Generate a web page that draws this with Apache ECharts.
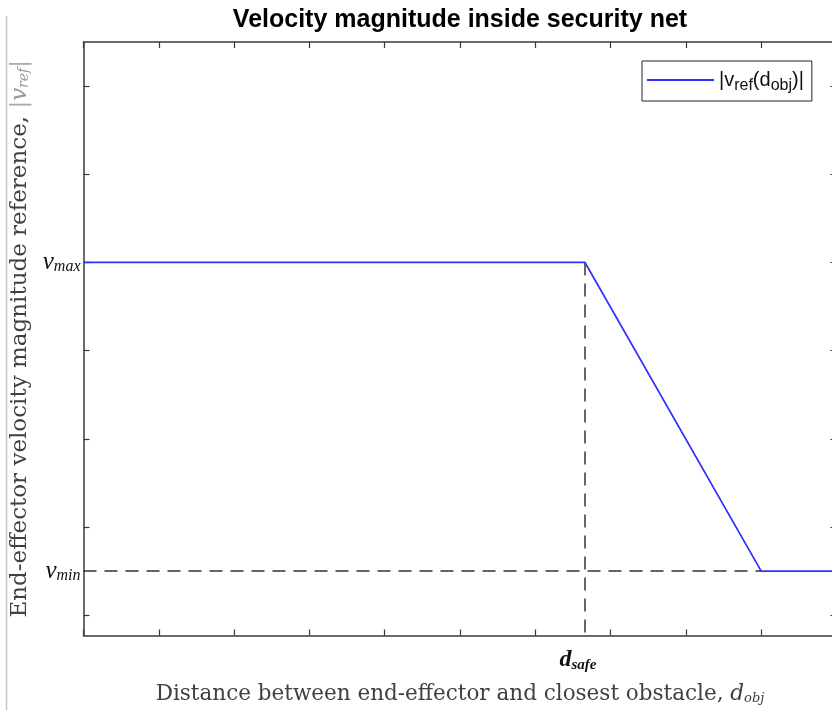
<!DOCTYPE html>
<html>
<head>
<meta charset="utf-8">
<script src="https://cdn.jsdelivr.net/npm/echarts@6/dist/echarts.min.js"></script>
<style>
  html, body { margin: 0; padding: 0; background: #fff; }
  #chart { width: 832px; height: 710px; }
</style>
</head>
<body>
<div id="chart"></div>
<script>
// Reference speed profile inside the security net
const distance = [0, 6.66, 9, 10];        // d_obj
const speed    = [0.4, 0.4, 0.05, 0.05];  // |v_ref(d_obj)|

const dSafe = 6.66;
const dEnd  = 9;
const vMax  = 0.4;
const vMin  = 0.05;

const xRange = [0, 10];
const yRange = [-0.023, 0.65];
const xTicks = [0, 1, 2, 3, 4, 5, 6, 7, 8, 9, 10];
const yTicks = [0, 0.1, 0.2, 0.3, 0.4, 0.5, 0.6];

const titleText = 'Velocity magnitude inside security net';

const axisColor = '#3a3a3a';
const labelColor = '#404040';
const serif = '"DejaVu Serif", "Liberation Serif", serif';
const mathSerif = '"Liberation Serif", "DejaVu Serif", serif';
const sans = '"Liberation Sans", Arial, sans-serif';

// plot box in pixels
const plot = { left: 83.5, top: 42, width: 753, height: 593.5 };
const plotCenterX = plot.left + plot.width / 2;

// centre the title over the plot box rather than the canvas
const titleFont = 'bold 25px "Liberation Sans", Arial, sans-serif';
const measureCtx = document.createElement('canvas').getContext('2d');
measureCtx.font = titleFont;
const titleWidth = measureCtx.measureText(titleText).width;

const chart = echarts.init(document.getElementById('chart'), null, { renderer: 'canvas' });

function boxAxis(extra) {
  return Object.assign({
    type: 'value',
    axisLine: { show: true, onZero: false, lineStyle: { color: axisColor, width: 1.5 } },
    axisTick: { show: true, inside: true, length: 6, lineStyle: { color: axisColor, width: 1.2 } },
    axisLabel: { show: false },
    splitLine: { show: false }
  }, extra);
}

const option = {
  backgroundColor: '#fff',
  animation: false,
  title: {
    text: titleText,
    left: plotCenterX - titleWidth / 2,
    top: 8,
    padding: 0,
    textStyle: { fontFamily: sans, fontWeight: 'bold', fontSize: 25, color: '#000' }
  },
  legend: {
    data: ['vref'],
    left: 642,
    top: 61,
    orient: 'vertical',
    padding: [9, 8, 7, 5],
    icon: 'rect',
    itemWidth: 67,
    itemHeight: 2,
    itemGap: 0,
    borderColor: '#262626',
    borderWidth: 1,
    borderRadius: 0,
    backgroundColor: '#fff',
    formatter: () => '|v{sub|ref}(d{sub|obj})|',
    textStyle: {
      fontFamily: sans, fontSize: 20, color: '#111',
      rich: { sub: { fontFamily: sans, fontSize: 16, color: '#111', padding: [12, 0, 0, 0] } }
    }
  },
  grid: Object.assign({ outerBoundsMode: 'none', containLabel: false }, plot),
  xAxis: [
    boxAxis({
      position: 'bottom',
      min: xRange[0], max: xRange[1],
      axisTick: { show: true, inside: true, length: 6, customValues: xTicks, lineStyle: { color: axisColor, width: 1.2 } },
      axisLabel: {
        show: true,
        customValues: [dSafe],
        margin: 12,
        formatter: () => '{d|d}{s|safe}{gap|}',
        rich: {
          d: { fontFamily: mathSerif, fontStyle: 'italic', fontWeight: 'bold', fontSize: 24, color: '#111' },
          s: { fontFamily: mathSerif, fontStyle: 'italic', fontWeight: 'bold', fontSize: 15, color: '#111', padding: [10, 0, 0, 0] },
          gap: { width: 14 }
        }
      },
      name: 'Distance between end-effector and closest obstacle, {m|d}{ms|obj}',
      nameLocation: 'middle',
      nameGap: 47,
      nameMoveOverlap: false,
      nameTextStyle: {
        fontFamily: serif, fontSize: 21.5, color: labelColor,
        rich: {
          m: { fontFamily: serif, fontStyle: 'italic', fontSize: 21.5, color: labelColor },
          ms: { fontFamily: serif, fontStyle: 'italic', fontSize: 13, color: labelColor, padding: [10, 0, 0, 0] }
        }
      }
    }),
    boxAxis({
      position: 'top',
      min: xRange[0], max: xRange[1],
      axisTick: { show: true, inside: true, length: 6, customValues: xTicks, lineStyle: { color: axisColor, width: 1.2 } }
    })
  ],
  yAxis: [
    boxAxis({
      position: 'left',
      min: yRange[0], max: yRange[1],
      axisTick: { show: true, inside: true, length: 6, customValues: yTicks, lineStyle: { color: axisColor, width: 1.2 } },
      axisLabel: {
        show: true,
        customValues: [vMin, vMax],
        margin: 3,
        formatter: v => v === vMax ? '{v|v}{s|max}' : '{v|v}{s|min}',
        rich: {
          v: { fontFamily: mathSerif, fontStyle: 'italic', fontSize: 25, color: '#111' },
          s: { fontFamily: mathSerif, fontStyle: 'italic', fontSize: 16, color: '#111', padding: [9, 0, 0, 0] }
        }
      },
      name: 'End-effector velocity magnitude reference, {b||}{m|v}{ms|ref}{b||}',
      nameLocation: 'middle',
      nameGap: 52,
      nameMoveOverlap: false,
      nameTextStyle: {
        fontFamily: serif, fontSize: 23, color: labelColor,
        rich: {
          b: { fontFamily: serif, fontSize: 23, color: '#aaa' },
          m: { fontFamily: serif, fontStyle: 'italic', fontSize: 23, color: '#999' },
          ms: { fontFamily: serif, fontStyle: 'italic', fontSize: 14, color: '#999', padding: [9, 0, 0, 0] }
        }
      }
    }),
    boxAxis({
      position: 'right',
      min: yRange[0], max: yRange[1],
      axisTick: { show: true, inside: true, length: 6, customValues: yTicks, lineStyle: { color: axisColor, width: 1.2 } }
    })
  ],
  series: [
    {
      name: 'dsafe-guide',
      type: 'line',
      symbol: 'none',
      silent: true,
      z: 1,
      lineStyle: { color: '#333', width: 1.5, type: [13, 8] },
      data: [[dSafe, vMax], [dSafe, yRange[0]]]
    },
    {
      name: 'vmin-guide',
      type: 'line',
      symbol: 'none',
      silent: true,
      z: 1,
      lineStyle: { color: '#333', width: 1.5, type: [13, 8] },
      data: [[xRange[0], vMin], [dEnd, vMin]]
    },
    {
      name: 'vref',
      type: 'line',
      symbol: 'none',
      z: 3,
      itemStyle: { color: '#2f2fff' },
      lineStyle: { color: '#2f2fff', width: 1.7 },
      data: distance.map((d, i) => [d, speed[i]])
    }
  ],
  graphic: [
    {
      type: 'line',
      silent: true,
      shape: { x1: 6.5, y1: 16, x2: 6.5, y2: 710 },
      style: { stroke: '#c4c4c4', lineWidth: 1.5 }
    }
  ]
};

chart.setOption(option);
</script>
</body>
</html>
